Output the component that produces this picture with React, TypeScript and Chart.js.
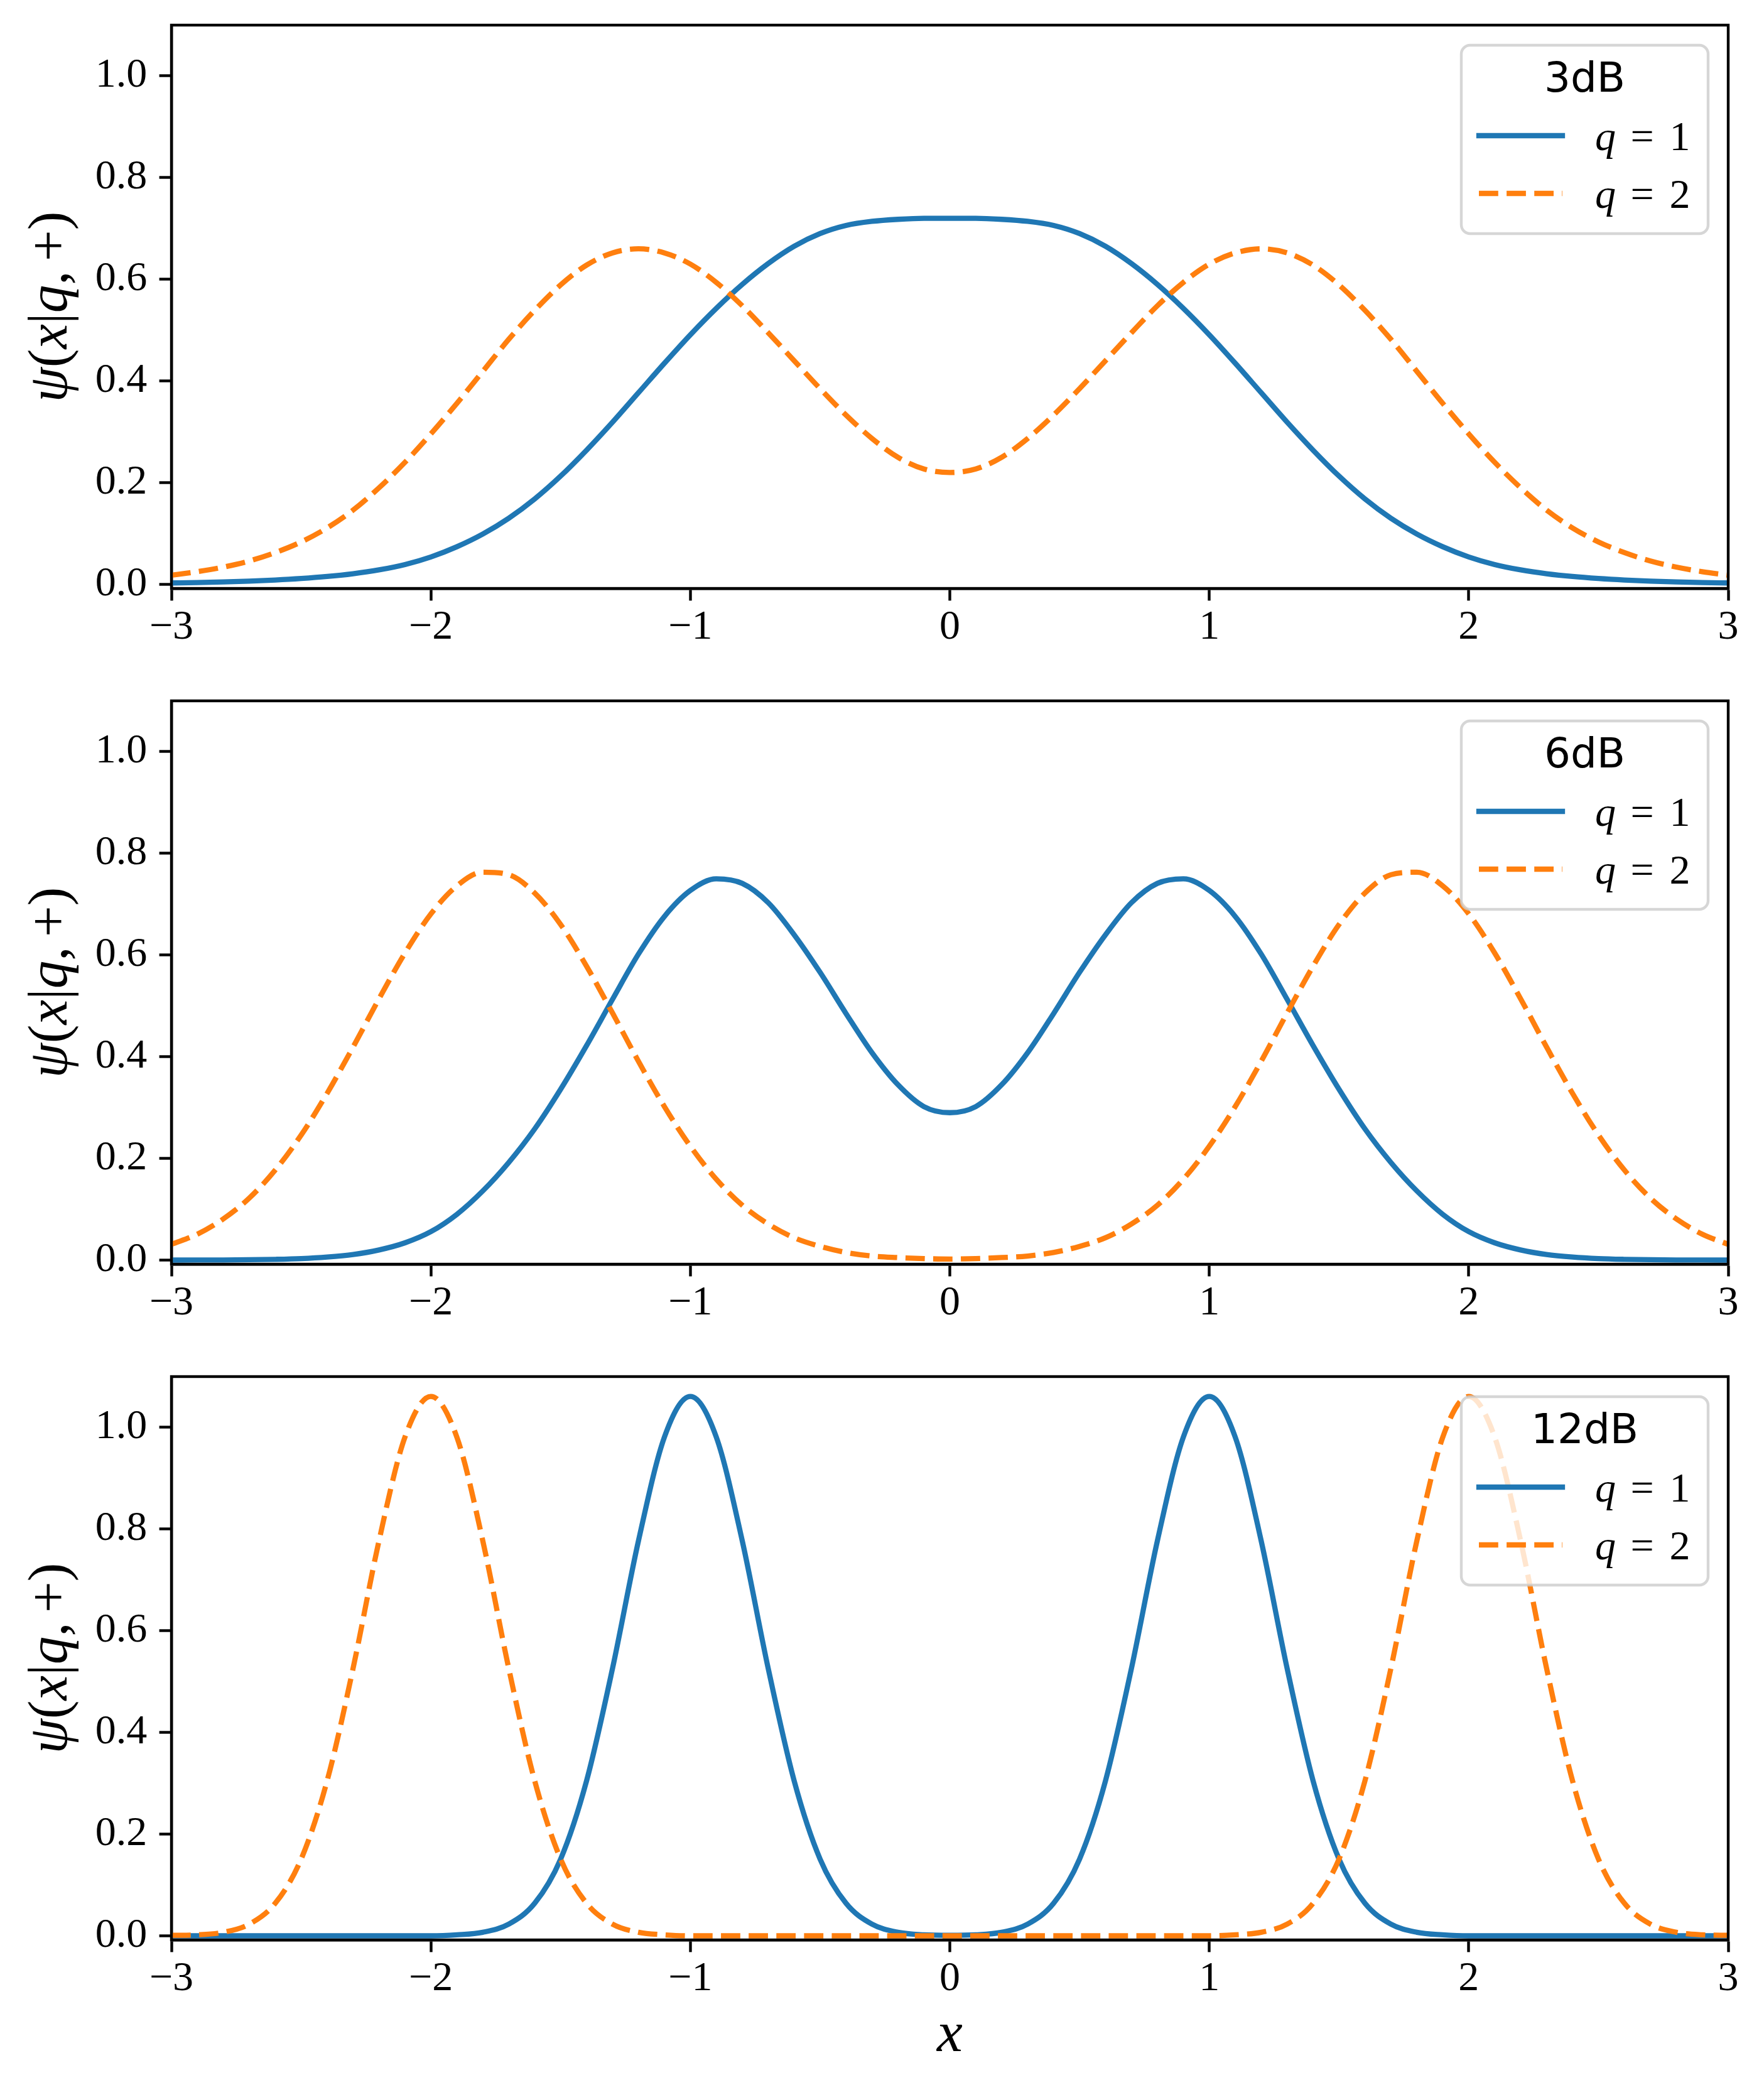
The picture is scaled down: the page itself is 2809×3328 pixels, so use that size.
import { useEffect, useRef } from "react";
import { Chart, registerables } from "chart.js";

Chart.register(...registerables);

const SERIF = "'Liberation Serif', 'DejaVu Serif', serif";
const SANS = "'DejaVu Sans', sans-serif";
const BLUE = "#1f77b4";
const ORANGE = "#ff7f0e";

// sample positions shared by every curve
const xs = [
  -3.0, -2.9, -2.8, -2.7, -2.6, -2.5, -2.4, -2.3, -2.2, -2.1,
  -2.0, -1.9, -1.8, -1.7, -1.6, -1.5, -1.4, -1.3, -1.2, -1.1,
  -1.0, -0.9, -0.8, -0.7, -0.6, -0.5, -0.4, -0.3, -0.2, -0.1,
  0.0,
  0.1, 0.2, 0.3, 0.4, 0.5, 0.6, 0.7, 0.8, 0.9, 1.0,
  1.1, 1.2, 1.3, 1.4, 1.5, 1.6, 1.7, 1.8, 1.9, 2.0,
  2.1, 2.2, 2.3, 2.4, 2.5, 2.6, 2.7, 2.8, 2.9, 3.0,
];

// 3dB
const q1_3dB = [
  0.0028, 0.0036, 0.0047, 0.0063, 0.0085, 0.0115, 0.0155, 0.021, 0.0285, 0.039,
  0.054, 0.074, 0.099, 0.130, 0.168, 0.213, 0.264, 0.319, 0.377, 0.435,
  0.491, 0.543, 0.590, 0.631, 0.665, 0.690, 0.706, 0.714, 0.718, 0.720,
  0.720,
  0.720, 0.718, 0.714, 0.706, 0.690, 0.665, 0.631, 0.590, 0.543, 0.491,
  0.435, 0.377, 0.319, 0.264, 0.213, 0.168, 0.130, 0.099, 0.074, 0.054,
  0.039, 0.0285, 0.021, 0.0155, 0.0115, 0.0085, 0.0063, 0.0047, 0.0036, 0.0028,
];
const q2_3dB = [
  0.018, 0.025, 0.034, 0.046, 0.0625, 0.0835, 0.111, 0.146, 0.190, 0.240,
  0.296, 0.356, 0.419, 0.482, 0.539, 0.589, 0.628, 0.652, 0.660, 0.652,
  0.630, 0.594, 0.548, 0.495, 0.440, 0.385, 0.333, 0.287, 0.250, 0.227,
  0.220,
  0.227, 0.250, 0.287, 0.333, 0.385, 0.440, 0.495, 0.548, 0.594, 0.630,
  0.652, 0.660, 0.652, 0.628, 0.589, 0.539, 0.482, 0.419, 0.356, 0.296,
  0.240, 0.190, 0.146, 0.111, 0.0835, 0.0625, 0.046, 0.034, 0.025, 0.018,
];

// 6dB
const q1_6dB = [
  0.000, 0.0001, 0.0003, 0.0007, 0.0015, 0.003, 0.006, 0.011, 0.020, 0.034,
  0.056, 0.090, 0.136, 0.192, 0.258, 0.336, 0.422, 0.513, 0.602, 0.676,
  0.727, 0.750, 0.741, 0.703, 0.640, 0.566, 0.485, 0.408, 0.345, 0.302,
  0.290,
  0.302, 0.345, 0.408, 0.485, 0.566, 0.640, 0.703, 0.741, 0.750, 0.727,
  0.676, 0.602, 0.513, 0.422, 0.336, 0.258, 0.192, 0.136, 0.090, 0.056,
  0.034, 0.020, 0.011, 0.006, 0.003, 0.0015, 0.0007, 0.0003, 0.0001, 0.000,
];
const q2_6dB = [
  0.031, 0.051, 0.081, 0.122, 0.177, 0.246, 0.328, 0.419, 0.514, 0.604,
  0.681, 0.736, 0.763, 0.758, 0.722, 0.660, 0.578, 0.486, 0.391, 0.302,
  0.224, 0.159, 0.108, 0.071, 0.044, 0.027, 0.015, 0.008, 0.005, 0.003,
  0.002,
  0.003, 0.005, 0.008, 0.015, 0.027, 0.044, 0.071, 0.108, 0.159, 0.224,
  0.302, 0.391, 0.486, 0.578, 0.660, 0.722, 0.758, 0.763, 0.736, 0.681,
  0.604, 0.514, 0.419, 0.328, 0.246, 0.177, 0.122, 0.081, 0.051, 0.031,
];

// 12dB
const q1_12dB = [
  0.000, 0.000, 0.000, 0.000, 0.000, 0.000, 0.000, 0.000, 0.000, 0.000,
  0.000, 0.002, 0.007, 0.023, 0.064, 0.151, 0.305, 0.526, 0.777, 0.981,
  1.061, 0.981, 0.777, 0.526, 0.305, 0.151, 0.064, 0.023, 0.007, 0.002,
  0.001,
  0.002, 0.007, 0.023, 0.064, 0.151, 0.305, 0.526, 0.777, 0.981, 1.061,
  0.981, 0.777, 0.526, 0.305, 0.151, 0.064, 0.023, 0.007, 0.002, 0.000,
  0.000, 0.000, 0.000, 0.000, 0.000, 0.000, 0.000, 0.000, 0.000, 0.000,
];
const q2_12dB = [
  0.001, 0.002, 0.007, 0.023, 0.064, 0.151, 0.305, 0.526, 0.777, 0.981,
  1.061, 0.981, 0.777, 0.526, 0.305, 0.151, 0.064, 0.023, 0.007, 0.002,
  0.000, 0.000, 0.000, 0.000, 0.000, 0.000, 0.000, 0.000, 0.000, 0.000,
  0.000,
  0.000, 0.000, 0.000, 0.000, 0.000, 0.000, 0.000, 0.000, 0.000, 0.000,
  0.002, 0.007, 0.023, 0.064, 0.151, 0.305, 0.526, 0.777, 0.981, 1.061,
  0.981, 0.777, 0.526, 0.305, 0.151, 0.064, 0.023, 0.007, 0.002, 0.001,
];

const xTicks = [-3, -2, -1, 0, 1, 2, 3];
const yTicks = [0, 0.2, 0.4, 0.6, 0.8, 1.0];
const seriesLabels = ["q = 1", "q = 2"];
const xLabel = "x";
// [text, italic]
const yLabel: [string, boolean][] = [
  ["ψ", true],
  ["(", false],
  ["x", true],
  ["|", false],
  ["q", true],
  [",", false],
  ["+", false],
  [")", false],
];

// figure geometry (pixels)
const FIG_W = 2809;
const FIG_H = 3328;
const PLOT_RIGHT = 2752;
const Y_AXIS_W = 273;
const PAD_TOP = 40;
const PLOT_H = 897;
const LW = 8.3;
const SPINE = 4.4;

type Panel = {
  title: string;
  q1: number[];
  q2: number[];
  top: number;
  height: number;
  showX: boolean;
};

const panels: Panel[] = [
  { title: "3dB", q1: q1_3dB, q2: q2_3dB, top: 0, height: 1076, showX: false },
  { title: "6dB", q1: q1_6dB, q2: q2_6dB, top: 1076, height: 1076, showX: false },
  { title: "12dB", q1: q1_12dB, q2: q2_12dB, top: 2152, height: 1176, showX: true },
];

const minus = (v: number) => (v < 0 ? "\u2212" + Math.abs(v) : String(v));

// spines on all four sides, the boxed legend and the mixed-style y label
const decorPlugin: any = {
  id: "decor",
  afterDatasetsDraw(chart: any, _args: any, opts: any) {
    const { ctx, chartArea: a } = chart;
    ctx.save();
    ctx.strokeStyle = "#000";
    ctx.lineWidth = SPINE;
    ctx.strokeRect(a.left, a.top, a.right - a.left, a.bottom - a.top);

    const w = 393;
    const h = 300;
    const L = a.right - 32 - w;
    const T = a.top + 32;
    ctx.beginPath();
    ctx.roundRect(L, T, w, h, 14);
    ctx.fillStyle = "rgba(255,255,255,0.8)";
    ctx.fill();
    ctx.lineWidth = 4.4;
    ctx.strokeStyle = "rgba(204,204,204,0.8)";
    ctx.stroke();

    ctx.fillStyle = "#000";
    ctx.font = `66px ${SANS}`;
    ctx.textAlign = "center";
    ctx.textBaseline = "alphabetic";
    ctx.fillText(opts.title, L + w / 2, T + 74);

    chart.data.datasets.forEach((ds: any, i: number) => {
      const y = T + 144 + i * 92;
      const dashed = Array.isArray(ds.borderDash) && ds.borderDash.length > 0;
      ctx.beginPath();
      ctx.setLineDash(dashed ? ds.borderDash : []);
      ctx.lineCap = dashed ? "butt" : "square";
      ctx.strokeStyle = ds.borderColor;
      ctx.lineWidth = ds.borderWidth;
      ctx.moveTo(L + 28, y);
      ctx.lineTo(L + 161, y);
      ctx.stroke();
      ctx.setLineDash([]);

      const [lhs, rhs] = String(ds.label).split(" = ");
      ctx.fillStyle = "#000";
      ctx.textAlign = "left";
      ctx.font = `italic 66px ${SERIF}`;
      ctx.fillText(lhs, L + 213, y + 23);
      ctx.font = `66px ${SERIF}`;
      ctx.textAlign = "center";
      ctx.fillText("=", L + 288, y + 23);
      ctx.fillText(rhs, L + 348, y + 23);
    });
    ctx.restore();
  },
  afterDraw(chart: any) {
    const { ctx, chartArea: a } = chart;
    const size = 89;
    ctx.save();
    ctx.translate(106, (a.top + a.bottom) / 2);
    ctx.rotate(-Math.PI / 2);
    ctx.fillStyle = "#000";
    ctx.textBaseline = "alphabetic";
    ctx.textAlign = "left";
    const fontOf = (it: boolean) => `${it ? "italic " : ""}${size}px ${SERIF}`;
    const gapAfter = (t: string) => (t === "," ? size * 0.17 : 0);
    let total = 0;
    for (const [t, it] of yLabel) {
      ctx.font = fontOf(it);
      total += ctx.measureText(t).width + gapAfter(t);
    }
    let x = -total / 2;
    for (const [t, it] of yLabel) {
      ctx.font = fontOf(it);
      ctx.fillText(t, x, 0);
      x += ctx.measureText(t).width + gapAfter(t);
    }
    ctx.restore();
  },
};

function WavePanel({ panel }: { panel: Panel }) {
  const canvasRef = useRef<HTMLCanvasElement>(null);

  useEffect(() => {
    if (!canvasRef.current) return;
    const xAxisH = panel.height - PAD_TOP - PLOT_H;

    const chart = new Chart(canvasRef.current, {
      type: "line",
      data: {
        datasets: [
          {
            label: seriesLabels[0],
            data: xs.map((x, i) => ({ x, y: panel.q1[i] })),
            borderColor: BLUE,
            borderWidth: LW,
            borderJoinStyle: "round",
            pointRadius: 0,
            cubicInterpolationMode: "monotone",
            fill: false,
            order: 2,
          },
          {
            label: seriesLabels[1],
            data: xs.map((x, i) => ({ x, y: panel.q2[i] })),
            borderColor: ORANGE,
            borderWidth: LW,
            borderDash: [30.8, 13.3],
            borderCapStyle: "butt",
            pointRadius: 0,
            cubicInterpolationMode: "monotone",
            fill: false,
            order: 1,
          },
        ],
      },
      options: {
        responsive: false,
        animation: false,
        devicePixelRatio: 1,
        events: [],
        layout: {
          padding: { top: PAD_TOP, right: FIG_W - PLOT_RIGHT, left: 0, bottom: 0 },
        },
        plugins: {
          legend: { display: false },
          tooltip: { enabled: false },
          decor: { title: panel.title },
        } as any,
        scales: {
          x: {
            type: "linear",
            min: -3,
            max: 3,
            afterFit: (s: any) => {
              s.height = xAxisH;
              s.paddingLeft = 0;
              s.paddingRight = 0;
            },
            afterBuildTicks: (s: any) => {
              s.ticks = xTicks.map((v) => ({ value: v }));
            },
            grid: {
              drawOnChartArea: false,
              drawTicks: true,
              tickLength: 19.4,
              tickWidth: SPINE,
              tickColor: "#000",
            },
            border: { display: true, color: "#000", width: SPINE },
            ticks: {
              color: "#000",
              font: { family: SERIF, size: 66 },
              padding: 4,
              maxRotation: 0,
              autoSkip: false,
              callback: (v: any) => minus(Number(v)),
            },
            title: {
              display: panel.showX,
              text: xLabel,
              color: "#000",
              font: { family: SERIF, size: 92, style: "italic" },
              padding: { top: 0, bottom: 31 },
            },
          },
          y: {
            type: "linear",
            min: -0.008,
            max: 1.1,
            afterFit: (s: any) => {
              s.width = Y_AXIS_W;
              s.paddingTop = 0;
              s.paddingBottom = 0;
            },
            afterBuildTicks: (s: any) => {
              s.ticks = yTicks.map((v) => ({ value: v }));
            },
            grid: {
              drawOnChartArea: false,
              drawTicks: true,
              tickLength: 19.4,
              tickWidth: SPINE,
              tickColor: "#000",
            },
            border: { display: true, color: "#000", width: SPINE },
            ticks: {
              color: "#000",
              font: { family: SERIF, size: 66 },
              padding: 19.4,
              autoSkip: false,
              callback: (v: any) => Number(v).toFixed(1),
            },
          },
        },
      },
      plugins: [decorPlugin],
    } as any);

    return () => chart.destroy();
  }, [panel]);

  return (
    <canvas
      ref={canvasRef}
      width={FIG_W}
      height={panel.height}
      style={{
        position: "absolute",
        left: 0,
        top: panel.top,
        width: FIG_W,
        height: panel.height,
      }}
    />
  );
}

export default function App() {
  return (
    <div
      style={{
        position: "absolute",
        left: 0,
        top: 0,
        width: FIG_W,
        height: FIG_H,
        background: "#fff",
        overflow: "hidden",
      }}
    >
      {panels.map((p) => (
        <WavePanel key={p.title} panel={p} />
      ))}
    </div>
  );
}
